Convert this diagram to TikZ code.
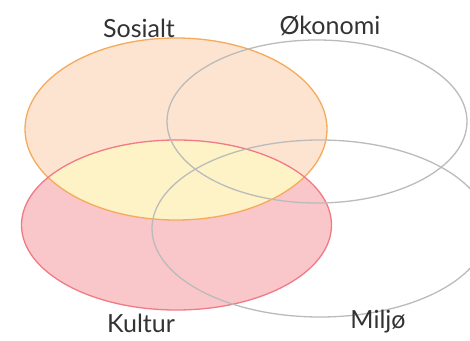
\documentclass[tikz,border=0pt]{standalone}
\usepackage{fontspec}
\setmainfont{Lato}
\definecolor{peach}{HTML}{FCE4D0}
\definecolor{pinkfill}{HTML}{F9C6CA}
\definecolor{yellowfill}{HTML}{FEF3C6}
\definecolor{orangeline}{HTML}{F5AA5C}
\definecolor{redline}{HTML}{F27A84}
\definecolor{grayline}{HTML}{BBBBBB}
\begin{document}
\begin{tikzpicture}[x=1pt,y=-1pt,
  lbl/.style={font=\fontsize{25}{28}\selectfont, text=black!80, inner sep=0pt},
  ring/.style={line width=1.3pt}]
\useasboundingbox (0,0) rectangle (470,340);
\fill[white] (0,0) rectangle (470,340);
% fills
\fill[peach] (176,129) ellipse [x radius=151, y radius=91];
\fill[pinkfill] (176.5,225) ellipse [x radius=155, y radius=85];
\begin{scope}
  \clip (176,129) ellipse [x radius=151, y radius=91];
  \fill[yellowfill] (176.5,225) ellipse [x radius=155, y radius=85];
\end{scope}
% outlines
\draw[ring, orangeline] (176,129) ellipse [x radius=151, y radius=91];
\draw[ring, redline] (176.5,225) ellipse [x radius=155, y radius=85];
\draw[ring, grayline] (317,121.5) ellipse [x radius=150, y radius=81.5];
\draw[ring, grayline] (320,228.5) ellipse [x radius=168, y radius=88.5];
% labels
\node[lbl] (sos) at (139,28) {Sosialt};
\node[lbl] (oko) at (330,26) {Økonomi};
\node[lbl] (kul) at (141,323) {Kultur};
\node[lbl] (mil) at (378,322) {Miljø};
\end{tikzpicture}
\end{document}
